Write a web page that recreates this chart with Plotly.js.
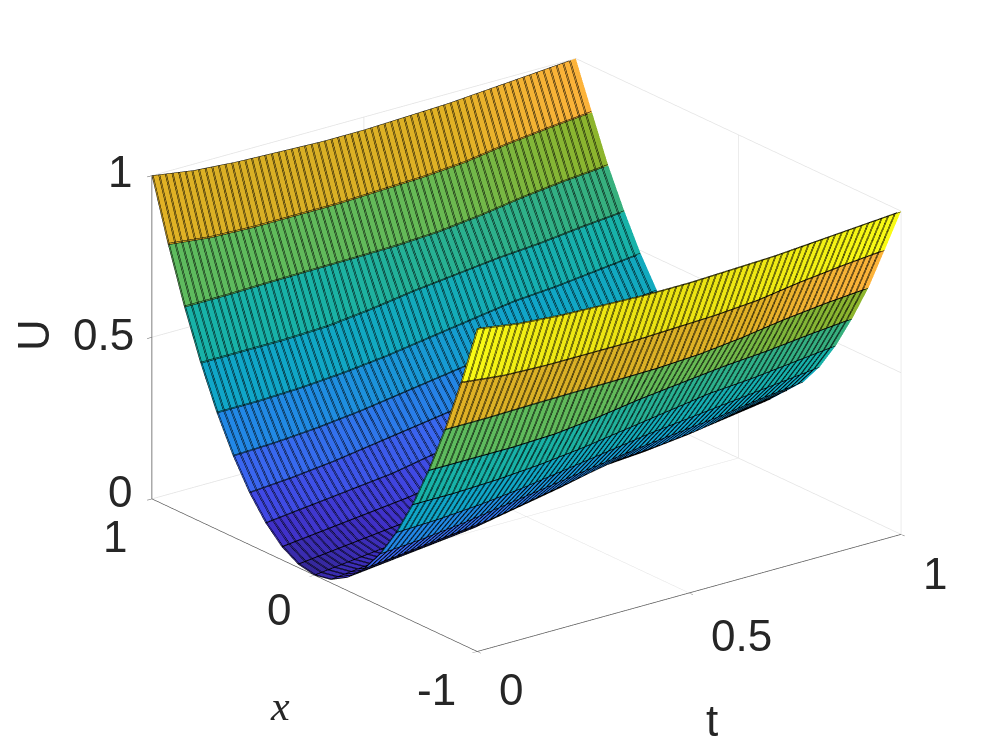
<!DOCTYPE html>
<html>
<head>
<meta charset="utf-8">
<script src="https://cdn.plot.ly/plotly-3.0.1.min.js"></script>
<style>html,body{margin:0;padding:0;background:#fff}</style>
</head>
<body>
<div id="grafica" style="width:997px;height:747px"></div>
<script>
var xHalf = [0, 0.1, 0.2, 0.3, 0.4, 0.5, 0.6, 0.7, 0.8, 0.9, 1];
var tVals = [0, 0.1, 0.2, 0.3, 0.4, 0.5, 0.6, 0.7, 0.8, 0.9, 1];

// U(x,t), one row per xHalf, one column per tVals
var uRows = [
  [0, .015, .03, .045, .07, .095, .125, .135, .145, .16, .17],
  [.01, .025, .04, .055, .08, .105, .135, .145, .16, .175, .19],
  [.04, .055, .07, .085, .11, .135, .165, .175, .19, .21, .23],
  [.09, .105, .12, .135, .16, .185, .21, .22, .235, .26, .28],
  [.16, .17, .185, .205, .225, .245, .265, .28, .295, .315, .33],
  [.25, .255, .265, .28, .30, .32, .34, .355, .37, .385, .40],
  [.36, .36, .365, .375, .39, .41, .43, .45, .46, .475, .49],
  [.49, .49, .49, .495, .51, .53, .545, .56, .57, .585, .597],
  [.64, .64, .643, .645, .646, .648, .655, .67, .69, .705, .716],
  [.81, .795, .79, .79, .79, .795, .80, .81, .83, .845, .857],
  [1, .98, .97, .965, .96, .96, .965, .97, .98, .99, 1]
];

// colours as they appear in the picture, by U
var colorStops = [0, .01, .04, .09, .16, .25, .36, .49, .597, .64, .716, .78, .81, .857, .96, 1];
var colorVals = ['#35289a', '#3a2cb0', '#4030c8', '#4048e4', '#3a66f0', '#2288e6', '#10a6c8', '#18b2a8',
  '#37b07e', '#5dbb5f', '#8eb52c', '#d6af25', '#e2b225', '#fdb33b', '#ebe212', '#f9fb15'];

var tickT = [0, 0.5, 1];
var tickX = [-1, 0, 1];
var tickU = [0, 0.5, 1];

// flat shading: every band keeps the colour of its lower x line
var eps = 0.0005;
var xs = [], zs = [], cs = [];
for (var i = -10; i <= 10; i++) {
  var row = uRows[Math.abs(i)];
  var xv = i < 0 ? -xHalf[-i] : xHalf[i];
  if (i > -10) {
    xs.push(xv - eps);
    zs.push(row);
    cs.push(uRows[Math.abs(i - 1)]);
  }
  xs.push(xv);
  zs.push(row);
  cs.push(row);
}

var cmax = colorStops[colorStops.length - 1];
var escala = colorStops.map(function (v, k) { return [v / cmax, colorVals[k]]; });

var sup = {
  type: 'surface',
  x: tVals,
  y: xs,
  z: zs,
  surfacecolor: cs,
  cmin: 0,
  cmax: cmax,
  colorscale: escala,
  showscale: false,
  hoverinfo: 'skip',
  lighting: {ambient: 1, diffuse: 0, specular: 0, roughness: 1, fresnel: 0},
  contours: {
    x: {show: true, start: 0, end: 1, size: 1 / 64, color: '#000', width: 2, highlight: false},
    y: {show: true, start: -1, end: 1, size: 0.1, color: '#000', width: 2, highlight: false},
    z: {highlight: false}
  }
};

// webgl lines stay 1px wide, so a second wireframe thickens the mesh
var malla = {
  type: 'surface',
  x: tVals,
  y: xs,
  z: zs,
  hidesurface: true,
  showscale: false,
  hoverinfo: 'skip',
  contours: {
    x: {show: true, start: 0.0028, end: 1, size: 1 / 64, color: '#000', width: 2, highlight: false},
    y: {show: true, start: -0.998, end: 1, size: 0.1, color: '#000', width: 2, highlight: false},
    z: {highlight: false}
  }
};

var fuente = {family: 'Liberation Sans, Arial, sans-serif', size: 44, color: '#262626'};

var eje = {
  showbackground: false,
  showgrid: true,
  gridcolor: '#e2e2e2',
  gridwidth: 1.5,
  zeroline: false,
  showline: true,
  linecolor: '#555',
  linewidth: 1.5,
  ticks: 'outside',
  ticklen: 6,
  tickcolor: '#555',
  showticklabels: false,
  showspikes: false,
  title: {text: ''}
};

function rotulo(x, y, z, text, dx, dy) {
  return {x: x, y: y, z: z, text: String(text), showarrow: false, xshift: dx, yshift: dy, font: fuente};
}

var rotulos = [];
tickU.forEach(function (v, k) {
  rotulos.push(rotulo(0, 1, v, v, [-32, -48, -32][k], [7, 3, 4][k]));
});
tickX.forEach(function (v, k) {
  rotulos.push(rotulo(0, v, 0, v, [-41, -35, -37][k], [-38, -35, -38][k]));
});
tickT.forEach(function (v, k) {
  rotulos.push(rotulo(v, -1, 0, v, [34, 52, 34][k], [-38, -43, -39][k]));
});

var layout = {
  width: 997,
  height: 747,
  margin: {l: 0, r: 0, t: 0, b: 0},
  paper_bgcolor: '#fff',
  showlegend: false,
  scene: {
    domain: {x: [0.056, 1], y: [0.05, 1]},
    aspectmode: 'manual',
    aspectratio: {x: 1.505, y: 1.505, z: 0.976},
    camera: {
      projection: {type: 'orthographic'},
      up: {x: 0, y: 0, z: 1},
      center: {x: 0, y: 0, z: 0},
      eye: {x: -1.0, y: -1.303, z: 0.634}
    },
    xaxis: Object.assign({}, eje, {range: [0, 1], tickvals: tickT}),
    yaxis: Object.assign({}, eje, {range: [-1, 1], tickvals: tickX}),
    zaxis: Object.assign({}, eje, {range: [0, 1], tickvals: tickU}),
    annotations: rotulos
  },
  annotations: [
    {xref: 'paper', yref: 'paper', x: 33 / 997, y: 1 - 335 / 747, xanchor: 'center', yanchor: 'middle',
      text: 'U', textangle: -90, showarrow: false, font: fuente},
    {xref: 'paper', yref: 'paper', x: 280 / 997, y: 1 - 706 / 747, xanchor: 'center', yanchor: 'middle',
      text: '<i>x</i>', showarrow: false, font: {family: 'Liberation Serif, serif', size: 42, color: '#262626'}},
    {xref: 'paper', yref: 'paper', x: 712 / 997, y: 1 - 720 / 747, xanchor: 'center', yanchor: 'middle',
      text: 't', showarrow: false, font: fuente}
  ]
};

Plotly.newPlot('grafica', [sup, malla], layout, {displayModeBar: false});
</script>
</body>
</html>
